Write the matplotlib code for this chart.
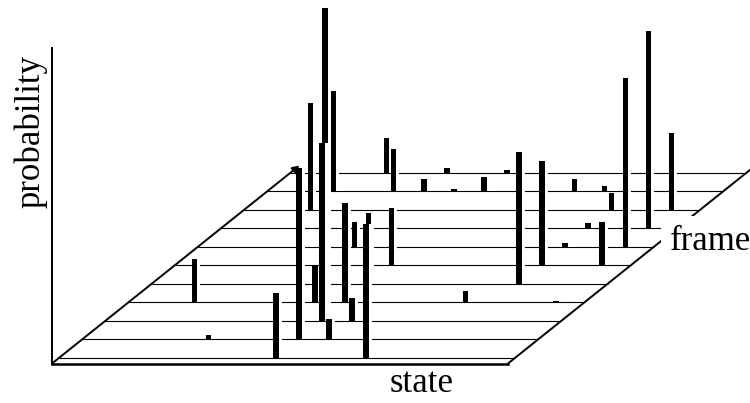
import matplotlib
matplotlib.use("Agg")
import matplotlib.pyplot as plt

# bars: state index, frame index, probability
bar_states = [2, 4, 7, 7, 2, 6, 7.1, 7, 8, 2, 7, 5, 8, 10, 7, 3, 4, 7,
              5, 5, 6, 11, 7, 7, 12, 12, 14, 12, 10, 12, 11, 14, 12, 14, 14, 14]
bar_frames = [3, 1, 0, 1, 8, 3, 2, 2, 1, 9, 3, 6, 2, 0, 4, 10, 9, 5,
              9, 10, 9, 3, 9, 10, 4, 5, 3, 6, 9, 7, 9, 5, 8, 6, 7, 8]
bar_probs = [0.124, 0.013, 0.186, 0.489, 0.306, 0.105, 0.893, 0.509, 0.058,
             0.287, 0.284, 0.070, 0.064, 0.383, 0.203, 0.100, 0.120, 0.165,
             0.034, 0.014, 0.008, 0.031, 0.041, 0.009, 0.376, 0.297, 0.005,
             0.012, 0.034, 0.014, 0.014, 0.125, 0.047, 0.482, 0.563, 0.220]
n_frames = 11

# oblique projection of the floor (canvas units = pixels)
X0, Y0 = 52, 363.5
FLOOR_W = 456
FLOOR_D = 198
SLANT = 1.25
STATE_STEP, STATE_OFF = 30.1, 6
FRAME_STEP, FRAME_OFF = 18.5, 5.7
PROB_SCALE = 350
BAR_W, HALO_W = 5.5, 3


def depth(frame):
    return FRAME_OFF + FRAME_STEP * frame


def project(state, frame):
    d = depth(frame)
    return X0 + STATE_OFF + STATE_STEP * state + SLANT * d, Y0 - d


plt.rcParams["font.family"] = ["Liberation Serif", "DejaVu Serif"]
fig = plt.figure(figsize=(7.5, 4.03), dpi=100)
ax = fig.add_axes([0, 0, 1, 1])
ax.set_xlim(0, 750)
ax.set_ylim(403, 0)
ax.axis("off")

# floor outline and probability axis
ax.plot([X0, X0 + FLOOR_W], [Y0, Y0], color="black", lw=1.8, zorder=2)
ax.plot([X0 + FLOOR_W, X0 + FLOOR_W + SLANT * FLOOR_D], [Y0, Y0 - FLOOR_D],
        color="black", lw=1.4, zorder=2)
ax.annotate("", xy=(X0 + SLANT * FLOOR_D, Y0 - FLOOR_D), xytext=(X0, Y0),
            arrowprops=dict(arrowstyle="-|>", color="black", lw=1.4,
                            mutation_scale=10, shrinkA=0, shrinkB=0),
            zorder=2)
ax.plot([X0, X0], [Y0, 48], color="black", lw=1.4, zorder=2)

# frames from back to front, bars on each frame line
z = 5
for f in range(n_frames - 1, -1, -1):
    d = depth(f)
    ax.hlines(Y0 - d, X0 + SLANT * d, X0 + FLOOR_W + SLANT * d,
              color="black", lw=0.8, zorder=z)
    z += 1
    for s, fr, p in zip(bar_states, bar_frames, bar_probs):
        if fr != f:
            continue
        x, y = project(s, fr)
        h = p * PROB_SCALE
        ax.bar(x + BAR_W / 2 + HALO_W / 2, -h, bottom=y, width=HALO_W,
               color="white", linewidth=0, zorder=z)
        ax.bar(x, -h, bottom=y, width=BAR_W, color="black", linewidth=0,
               zorder=z + 1)
        z += 2

ax.text(31, 131, "probability", rotation=90, ha="center", va="center",
        fontsize=25)
ax.text(422, 383, "state", ha="center", va="center", fontsize=25)
ax.text(670, 241, "frame", ha="left", va="center", fontsize=25, zorder=500,
        bbox=dict(boxstyle="square,pad=0.25", fc="white", ec="none"))

fig.savefig("out.png", dpi=100)
